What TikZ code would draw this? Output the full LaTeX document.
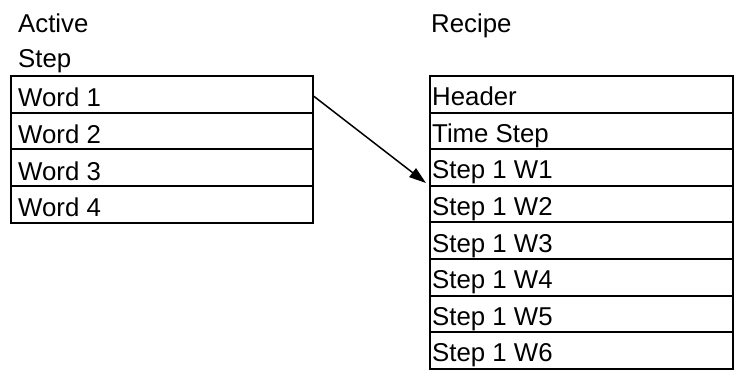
\documentclass[tikz,border=0pt]{standalone}
\usepackage{fontspec}
\setmainfont{Liberation Sans}
\usetikzlibrary{arrows.meta}
\begin{document}
\begin{tikzpicture}[x=1pt,y=-1pt,
  rowbox/.style={draw=black, line width=1.8pt, rectangle, inner sep=0pt,
     minimum width=302pt, minimum height=36.7pt, anchor=north west},
  txt/.style={inner sep=0pt, anchor=base west, font=\fontsize{25.8}{30}\selectfont},
  conn/.style={line width=1.5pt, -{Triangle[length=17pt,width=11pt]}}]
\useasboundingbox (0,0) rectangle (735,375);
\fill[white] (0,0) rectangle (735,375);
% headings
\node[txt] (hA) at (18,32) {Active};
\node[txt] (hS) at (18,67) {Step};
\node[txt] (hR) at (431,32) {Recipe};
% left table
\foreach \i/\t in {1/Word 1,2/Word 2,3/Word 3,4/Word 4}{
  \node[rowbox] (l\i) at (10,{75+(\i-1)*36.7}) {};
  \node[txt] (lt\i) at (18,{75+\i*36.7-5}) {\t};
}
% right table
\foreach \i/\t in {1/Header,2/Time Step,3/Step 1 W1,4/Step 1 W2,5/Step 1 W3,6/Step 1 W4,7/Step 1 W5,8/Step 1 W6}{
  \node[rowbox, minimum width=303pt] (r\i) at (429,{75+(\i-1)*36.6}) {};
  \node[txt] (rt\i) at (432,{75+\i*36.6-6}) {\t};
}
\coordinate (tip) at (426,183);
\draw[conn] ([yshift=-2pt]l1.east) -- (tip);
\end{tikzpicture}
\end{document}
